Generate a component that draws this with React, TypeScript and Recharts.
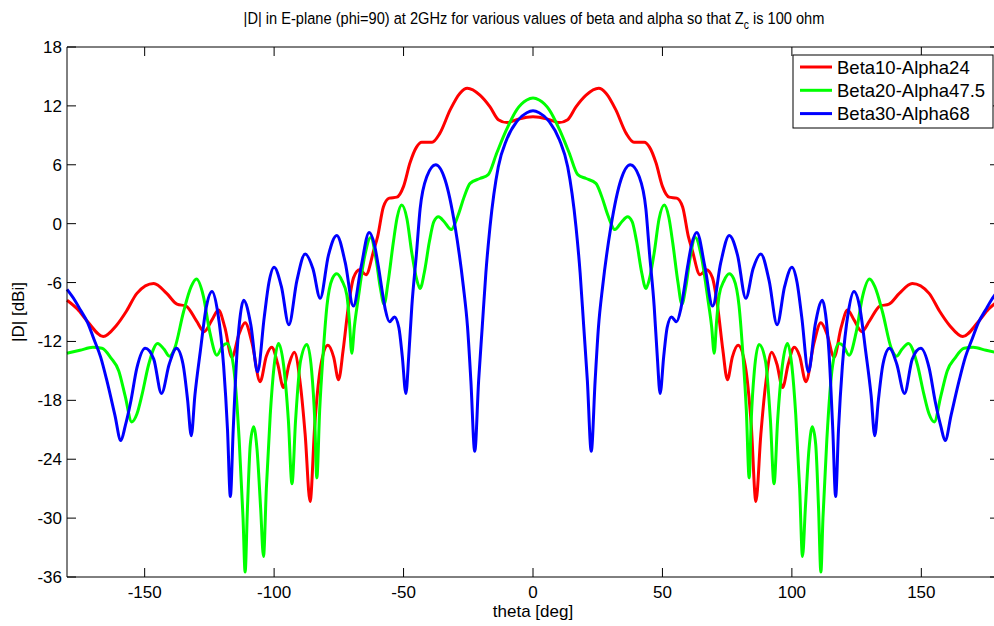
import { LineChart, Line, XAxis, YAxis } from "recharts";

// |D| in dBi against theta (deg)
const beta10Alpha24: [number, number][] = [
  [-180, -7.8], [-176, -8.7], [-172, -10.0], [-166, -11.5], [-161, -10.4], [-157, -8.9], [-153, -7.1],
  [-146.5, -6.1], [-141.5, -7.1], [-137.5, -8.2], [-134, -8.4], [-130, -9.9], [-127, -11.0], [-124, -9.8],
  [-121.5, -8.8], [-119, -10.6], [-116.3, -13.6], [-113.5, -11.2], [-111.2, -10.1], [-108.5, -12.2],
  [-105.4, -16.1], [-103, -13.5], [-100.9, -12.6], [-98.6, -14.3], [-96.4, -16.7], [-94.2, -14.3],
  [-92.2, -13.1], [-89.8, -16.5], [-88, -21.5], [-86.1, -28.3], [-84.3, -20.5], [-82, -14.5], [-79.2, -12.4],
  [-77, -13.6], [-75.1, -15.9], [-73.3, -12.8], [-71.3, -8.4], [-69.3, -5.5], [-67, -4.7], [-64.5, -5.2],
  [-61.5, -2.7], [-60, -1.3], [-57.8, 1.7], [-55.5, 2.6], [-52.6, 2.7], [-50, 3.8], [-47.5, 6.2], [-45, 7.8],
  [-43, 8.3], [-39, 8.3], [-36, 9.2], [-32, 11.6], [-28.2, 13.3], [-25.4, 13.8], [-20.5, 13.1], [-16.6, 11.9],
  [-13.4, 10.6], [-10, 10.3], [-6.3, 10.6], [-2.4, 10.85], [0, 10.9],
  [2.4, 10.85], [6.3, 10.6], [10, 10.3], [13.4, 10.6], [16.6, 11.9], [20.5, 13.1], [25.4, 13.8], [28.2, 13.3],
  [32, 11.6], [36, 9.2], [39, 8.3], [43, 8.3], [45, 7.8], [47.5, 6.2], [50, 3.8], [52.6, 2.7], [55.5, 2.6],
  [57.8, 1.7], [60, -1.3], [61.5, -2.7], [64.5, -5.2], [67, -4.7], [69.3, -5.5], [71.3, -8.4], [73.3, -12.8],
  [75.1, -15.9], [77, -13.6], [79.2, -12.4], [82, -14.5], [84.3, -20.5], [86.1, -28.3], [88, -21.5],
  [89.8, -16.5], [92.2, -13.1], [94.2, -14.3], [96.4, -16.7], [98.6, -14.3], [100.9, -12.6], [103, -13.5],
  [105.4, -16.1], [108.5, -12.2], [111.2, -10.1], [113.5, -11.2], [116.3, -13.6], [119, -10.6], [121.5, -8.8],
  [124, -9.8], [127, -11.0], [130, -9.9], [134, -8.4], [137.5, -8.2], [141.5, -7.1], [146.5, -6.1],
  [153, -7.1], [157, -8.9], [161, -10.4], [166, -11.5], [172, -10.0], [176, -8.7], [180, -7.8],
];

const beta20Alpha47: [number, number][] = [
  [-180, -13.2], [-175, -12.9], [-170, -12.6], [-166.5, -12.7], [-163, -13.7], [-160, -15.0], [-157.5, -17.6],
  [-155, -20.2], [-153, -19.4], [-151, -17.4], [-148.5, -14.4], [-145, -12.2], [-142.5, -12.8], [-140.5, -13.5],
  [-138.4, -12.7], [-135, -9.0], [-132, -6.4], [-130, -5.65], [-127.4, -7.3], [-124.8, -11.1], [-122.1, -13.4],
  [-120, -12.5], [-118.2, -12.2], [-115.7, -14.5], [-113.5, -22], [-112, -30], [-111.2, -35.5], [-110.3, -29],
  [-109.2, -22.5], [-107.9, -20.7], [-106.6, -23], [-105.2, -29], [-104.1, -33.9], [-103, -27], [-101.5, -19.5],
  [-100, -14.5], [-98.3, -12.2], [-96.3, -14.5], [-94.5, -20], [-93.1, -26.5], [-91.7, -20], [-89.8, -14],
  [-87.3, -12.3], [-85.5, -15], [-84.3, -20], [-83.5, -25.9], [-82.4, -19], [-81, -13], [-79.6, -8.4],
  [-77.5, -5.6], [-75.8, -5.1], [-73.8, -5.8], [-71.9, -7.3], [-70.9, -10], [-70, -13.2], [-69, -10.5],
  [-67.5, -7.6], [-65, -3.3], [-62.7, -1.4], [-60.5, -3.8], [-59, -6.5], [-57.5, -8.2], [-56, -6], [-54, -2],
  [-52.5, 0.6], [-50.7, 1.9], [-48.7, 0.5], [-46.8, -3], [-45, -5.6], [-43.6, -6.6], [-42, -5], [-40, -1.8],
  [-38.3, 0.2], [-36.5, 0.7], [-34.3, 0.2], [-31.6, -0.6], [-29, 0.8], [-26.5, 2.8], [-24.3, 4.1],
  [-20.5, 4.6], [-17.3, 5.0], [-14, 7.2], [-10.2, 9.6], [-6.3, 11.6], [-2.4, 12.6], [0, 12.8],
  [2.4, 12.6], [6.3, 11.6], [10.2, 9.6], [14, 7.2], [17.3, 5.0], [20.5, 4.6], [24.3, 4.1], [26.5, 2.8],
  [29, 0.8], [31.6, -0.6], [34.3, 0.2], [36.5, 0.7], [38.3, 0.2], [40, -1.8], [42, -5], [43.6, -6.6],
  [45, -5.6], [46.8, -3], [48.7, 0.5], [50.7, 1.9], [52.5, 0.6], [54, -2], [56, -6], [57.5, -8.2], [59, -6.5],
  [60.5, -3.8], [62.7, -1.4], [65, -3.3], [67.5, -7.6], [69, -10.5], [70, -13.2], [70.9, -10], [71.9, -7.3],
  [73.8, -5.8], [75.8, -5.1], [77.5, -5.6], [79.6, -8.4], [81, -13], [82.4, -19], [83.5, -25.9], [84.3, -20],
  [85.5, -15], [87.3, -12.3], [89.8, -14], [91.7, -20], [93.1, -26.5], [94.5, -20], [96.3, -14.5],
  [98.3, -12.2], [100, -14.5], [101.5, -19.5], [103, -27], [104.1, -33.9], [105.2, -29], [106.6, -23],
  [107.9, -20.7], [109.2, -22.5], [110.3, -29], [111.2, -35.5], [112, -30], [113.5, -22], [115.7, -14.5],
  [118.2, -12.2], [120, -12.5], [122.1, -13.4], [124.8, -11.1], [127.4, -7.3], [130, -5.65], [132, -6.4],
  [135, -9.0], [138.4, -12.7], [140.5, -13.5], [142.5, -12.8], [145, -12.2], [148.5, -14.4], [151, -17.4],
  [153, -19.4], [155, -20.2], [157.5, -17.6], [160, -15.0], [163, -13.7], [166.5, -12.7], [170, -12.6],
  [175, -12.9], [180, -13.2],
];

const beta30Alpha68: [number, number][] = [
  [-180, -6.7], [-177, -7.8], [-174.8, -8.8], [-172, -10.1], [-169.7, -11.7], [-167, -13.6], [-164.5, -16.1],
  [-161.5, -19.5], [-159.2, -22.1], [-157.5, -20.6], [-155.5, -18.3], [-153, -14.7], [-149.8, -12.7],
  [-146.5, -13.8], [-143.5, -17.3], [-140.5, -14.3], [-137.7, -12.7], [-135.2, -14.3], [-133.4, -18],
  [-132, -21.6], [-130.6, -17.5], [-128.5, -13], [-126.2, -8.5], [-124, -6.9], [-121.8, -9], [-119.5, -14.5],
  [-118, -21], [-116.9, -27.8], [-115.8, -21], [-114.3, -13], [-113, -9.2], [-111.8, -7.8], [-109, -10.3],
  [-106.4, -15.1], [-103.8, -9.5], [-102, -6], [-100, -4.45], [-97.2, -6.4], [-94.3, -10.3], [-91.2, -5.8],
  [-88, -3.1], [-85, -4.6], [-82.2, -7.6], [-79, -3.2], [-75.8, -1.2], [-72.5, -4], [-69.4, -8.4],
  [-66.4, -4.4], [-63.3, -0.9], [-61.2, -2.2], [-59.7, -4.4], [-58, -7.3], [-57, -8.8], [-55.4, -10.0],
  [-53.5, -9.5], [-51.8, -10.6], [-50.5, -13.5], [-49.1, -17.3], [-48, -13.5], [-46.8, -8.4], [-45, -3],
  [-43.6, 1.5], [-41, 4.8], [-37.6, 6.0], [-34, 4.5], [-30.1, -0.3], [-26.9, -6.4], [-25.3, -10.5],
  [-24, -16], [-22.5, -23.2], [-21, -16], [-19.6, -10.5], [-18.2, -5], [-16.6, -0.3], [-13.4, 5.8],
  [-10.2, 8.55], [-6.3, 10.4], [-2.4, 11.3], [0, 11.5],
  [2.4, 11.3], [6.3, 10.4], [10.2, 8.55], [13.4, 5.8], [16.6, -0.3], [18.2, -5], [19.6, -10.5], [21, -16],
  [22.5, -23.2], [24, -16], [25.3, -10.5], [26.9, -6.4], [30.1, -0.3], [34, 4.5], [37.6, 6.0], [41, 4.8],
  [43.6, 1.5], [45, -3], [46.8, -8.4], [48, -13.5], [49.1, -17.3], [50.5, -13.5], [51.8, -10.6], [53.5, -9.5],
  [55.4, -10.0], [57, -8.8], [58, -7.3], [59.7, -4.4], [61.2, -2.2], [63.3, -0.9], [66.4, -4.4], [69.4, -8.4],
  [72.5, -4], [75.8, -1.2], [79, -3.2], [82.2, -7.6], [85, -4.6], [88, -3.1], [91.2, -5.8], [94.3, -10.3],
  [97.2, -6.4], [100, -4.45], [102, -6], [103.8, -9.5], [106.4, -15.1], [109, -10.3], [111.8, -7.8],
  [113, -9.2], [114.3, -13], [115.8, -21], [116.9, -27.8], [118, -21], [119.5, -14.5], [121.8, -9],
  [124, -6.9], [126.2, -8.5], [128.5, -13], [130.6, -17.5], [132, -21.6], [133.4, -18], [135.2, -14.3],
  [137.7, -12.7], [140.5, -14.3], [143.5, -17.3], [146.5, -13.8], [149.8, -12.7], [153, -14.7],
  [155.5, -18.3], [157.5, -20.6], [159.2, -22.1], [161.5, -19.5], [164.5, -16.1], [167, -13.6],
  [169.7, -11.7], [172, -10.1], [174.8, -8.8], [177, -7.8], [180, -6.7],
];

const seriesNames = ["Beta10-Alpha24", "Beta20-Alpha47.5", "Beta30-Alpha68"];
const seriesColors = ["#ff0000", "#00ff00", "#0000ff"];
const xTicks = [-150, -100, -50, 0, 50, 100, 150];
const yTicks = [-36, -30, -24, -18, -12, -6, 0, 6, 12, 18];

const toRows = (pts: [number, number][]) => pts.map(([theta, d]) => ({ theta, d }));
const allSeries = [beta10Alpha24, beta20Alpha47, beta30Alpha68].map(toRows);
// green sits on the mirror (top/right) axes; both pairs share domain and range
const axisPairs = [
  ["b", "l"],
  ["t", "r"],
  ["b", "l"],
];

const FONT = "'Liberation Sans', Arial, sans-serif";
const FS = 17;
const noLabel = () => "";

export default function App() {
  const tickStyle = { fill: "#000", fontSize: FS };
  return (
    <div
      style={{
        position: "absolute",
        left: 0,
        top: 0,
        width: 994,
        height: 626,
        overflow: "hidden",
        background: "#fff",
        fontFamily: FONT,
      }}
    >
      <LineChart width={1012} height={626} margin={{ top: 40, right: 6, bottom: 0, left: 0 }}>
        <XAxis
          xAxisId="b"
          type="number"
          dataKey="theta"
          domain={[-180, 180]}
          ticks={xTicks}
          height={49}
          tickSize={-9}
          tickMargin={18}
          stroke="#000"
          tick={tickStyle}
        />
        <XAxis
          xAxisId="t"
          orientation="top"
          type="number"
          dataKey="theta"
          domain={[-180, 180]}
          ticks={xTicks}
          height={7}
          tickSize={-9}
          tickFormatter={noLabel}
          tick={tickStyle}
          stroke="#000"
        />
        <YAxis
          yAxisId="l"
          type="number"
          domain={[-36, 18]}
          ticks={yTicks}
          width={67}
          tickSize={-9}
          tickMargin={14}
          stroke="#000"
          tick={tickStyle}
        />
        <YAxis
          yAxisId="r"
          orientation="right"
          type="number"
          domain={[-36, 18]}
          ticks={yTicks}
          width={7}
          tickSize={-9}
          tickFormatter={noLabel}
          tick={tickStyle}
          stroke="#000"
        />
        {allSeries.map((rows, i) => (
          <Line
            key={seriesNames[i]}
            xAxisId={axisPairs[i][0]}
            yAxisId={axisPairs[i][1]}
            data={rows}
            dataKey="d"
            name={seriesNames[i]}
            type="monotone"
            stroke={seriesColors[i]}
            strokeWidth={3}
            dot={false}
            activeDot={false}
            isAnimationActive={false}
          />
        ))}
      </LineChart>
      <svg
        width={994}
        height={626}
        style={{ position: "absolute", left: 0, top: 0, pointerEvents: "none" }}
        fontFamily={FONT}
        fontSize={FS}
      >
        <text transform="translate(534 24) scale(0.86 1)" textAnchor="middle">
          |D| in E-plane (phi=90) at 2GHz for various values of beta and alpha so that Z
          <tspan fontSize={12} dy={5}>c</tspan>
          <tspan dy={-5}> is 100 ohm</tspan>
        </text>
        <text x={533} y={617} textAnchor="middle">theta [deg]</text>
        <text x={24} y={312} textAnchor="middle" transform="rotate(-90 24 312)">|D| [dBi]</text>
        <rect x={793} y={55} width={200} height={73} fill="#fff" stroke="#000" />
        {seriesNames.map((name, i) => (
          <g key={name}>
            <line x1={800} x2={832} y1={67 + i * 23.3} y2={67 + i * 23.3} stroke={seriesColors[i]} strokeWidth={3} />
            <text x={837} y={73.5 + i * 23.3} fontSize={18.5}>{name}</text>
          </g>
        ))}
      </svg>
    </div>
  );
}
